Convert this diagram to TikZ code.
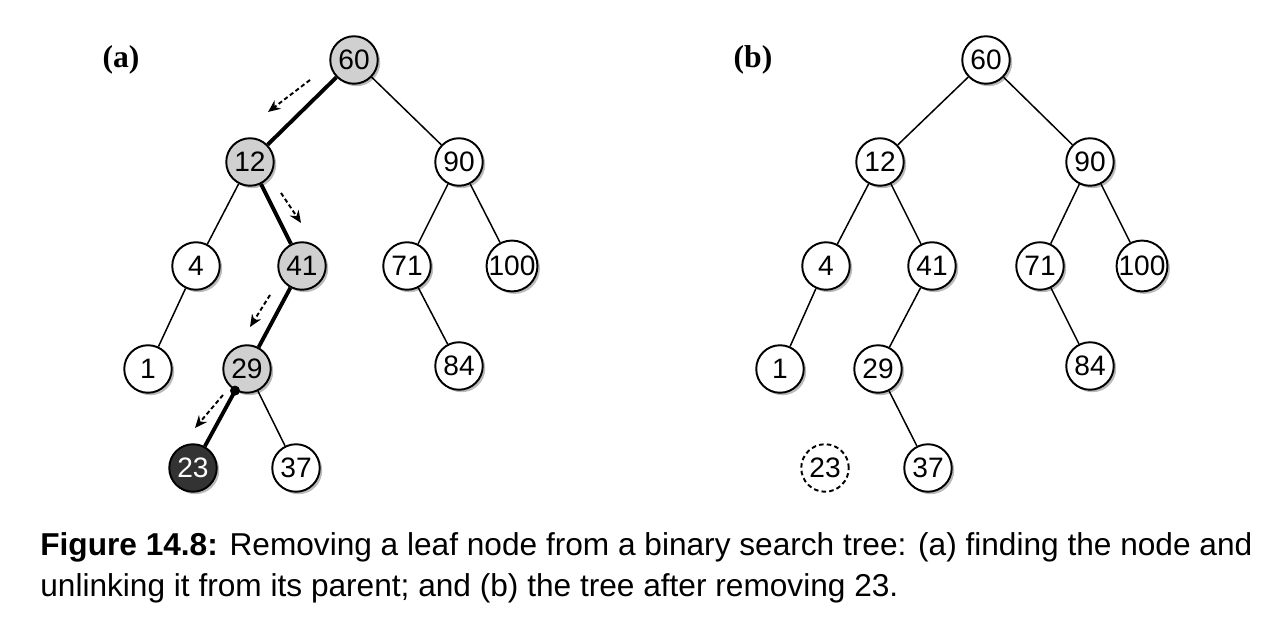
\documentclass[tikz,border=0pt]{standalone}
\usepackage{fontspec}
\setmainfont{Liberation Sans}
\newfontfamily\labelfont{Liberation Serif}
\usetikzlibrary{arrows.meta,shadows}

\begin{document}
\begin{tikzpicture}
  \definecolor{visited}{HTML}{D0D0D0}
  \definecolor{removed}{HTML}{333333}
  \tikzset{
    bst/.style={circle,draw,line width=1.1pt,fill=white,minimum size=0.95cm,inner sep=0pt,
      font=\fontsize{16}{16}\selectfont,
      drop shadow={shadow xshift=1.4pt,shadow yshift=-1.4pt,fill=black!45,opacity=0.6}},
    path/.style={bst,fill=visited},
    gone/.style={bst,fill=removed,text=white},
    ghost/.style={circle,draw,dash pattern=on 2.6pt off 1.8pt,line width=1.1pt,fill=white,
      minimum size=0.95cm,inner sep=0pt,font=\fontsize{16}{16}\selectfont},
    edge/.style={line width=0.85pt},
    walk/.style={line width=2.2pt},
    flow/.style={dash pattern=on 2.4pt off 1.6pt,line width=1.1pt,-{Stealth[length=7pt,width=6pt]}}
  }
  \useasboundingbox (0,0) rectangle (25.52,12.36);
  % (a) searching for 23
  \node [path] (a60) at (7.08,11.16) {60};
  \node [path] (a12) at (5.00,9.12) {12};
  \node [bst] (a90) at (9.18,9.12) {90};
  \node [bst] (a4) at (3.92,7.04) {4};
  \node [path] (a41) at (6.04,7.04) {41};
  \node [bst] (a71) at (8.14,7.04) {71};
  \node [bst] (a100) at (10.24,7.04) {100};
  \node [bst] (a1) at (2.96,4.98) {1};
  \node [path] (a29) at (4.94,4.98) {29};
  \node [bst] (a84) at (9.18,5.04) {84};
  \node [gone] (a23) at (3.86,3.00) {23};
  \node [bst] (a37) at (5.92,3.00) {37};
  \draw [walk] (a60) -- (a12);
  \draw [edge] (a60) -- (a90);
  \draw [edge] (a12) -- (a4);
  \draw [walk] (a12) -- (a41);
  \draw [edge] (a90) -- (a71);
  \draw [edge] (a90) -- (a100);
  \draw [edge] (a4) -- (a1);
  \draw [walk] (a41) -- (a29);
  \draw [edge] (a71) -- (a84);
  \draw [walk] (a29) -- (a23);
  \draw [edge] (a29) -- (a37);
  \fill (a29.241) circle (0.1);
  \coordinate (f1) at (6.20,10.76); \coordinate (t1) at (5.36,10.12);
  \coordinate (f2) at (5.62,8.50);  \coordinate (t2) at (6.02,7.90);
  \coordinate (f3) at (5.40,6.46);  \coordinate (t3) at (5.00,5.82);
  \coordinate (f4) at (4.46,4.46);  \coordinate (t4) at (3.90,3.80);
  \draw [flow] (f1) -- (t1);
  \draw [flow] (f2) -- (t2);
  \draw [flow] (f3) -- (t3);
  \draw [flow] (f4) -- (t4);
  \node (la) at (2.42,11.16) {\labelfont\bfseries\fontsize{18}{18}\selectfont (a)};
  % (b) after removing 23
  \node [bst] (b60) at (19.72,11.16) {60};
  \node [bst] (b12) at (17.60,9.12) {12};
  \node [bst] (b90) at (21.80,9.12) {90};
  \node [bst] (b4) at (16.52,7.04) {4};
  \node [bst] (b41) at (18.64,7.04) {41};
  \node [bst] (b71) at (20.80,7.04) {71};
  \node [bst] (b100) at (22.84,7.04) {100};
  \node [bst] (b1) at (15.60,4.98) {1};
  \node [bst] (b29) at (17.56,4.98) {29};
  \node [bst] (b84) at (21.80,5.04) {84};
  \node [ghost] (b23) at (16.50,3.00) {23};
  \node [bst] (b37) at (18.56,3.00) {37};
  \draw [edge] (b60) -- (b12);
  \draw [edge] (b60) -- (b90);
  \draw [edge] (b12) -- (b4);
  \draw [edge] (b12) -- (b41);
  \draw [edge] (b90) -- (b71);
  \draw [edge] (b90) -- (b100);
  \draw [edge] (b4) -- (b1);
  \draw [edge] (b41) -- (b29);
  \draw [edge] (b71) -- (b84);
  \draw [edge] (b29) -- (b37);
  \node (lb) at (15.06,11.16) {\labelfont\bfseries\fontsize{18}{18}\selectfont (b)};
  % caption
  \node [anchor=west,align=left,inner sep=0pt,font=\fontsize{18}{23.5}\selectfont] (cap) at (0.80,1.00)
    {\textbf{Figure 14.8:} Removing a leaf node from a binary search tree: (a) finding the node and\\
     unlinking it from its parent; and (b) the tree after removing 23.};
\end{tikzpicture}
\end{document}
